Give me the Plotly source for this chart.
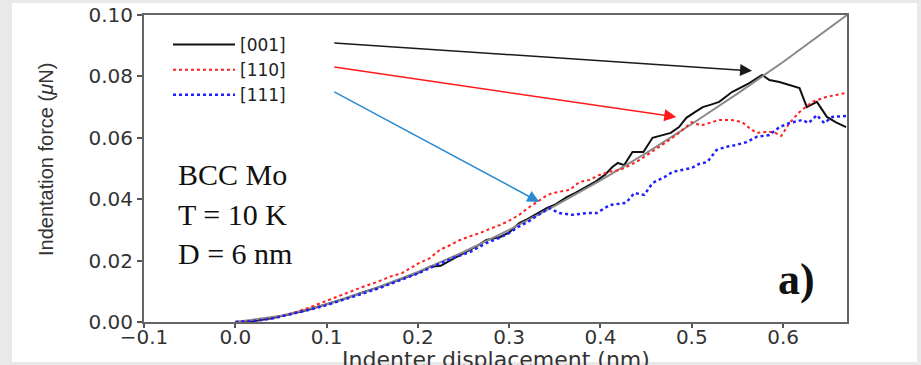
import plotly.graph_objects as go

# ---------------- data ----------------
x_001 = [0.0, 0.02, 0.04, 0.06, 0.08, 0.10, 0.12, 0.14, 0.16, 0.18, 0.20, 0.213, 0.225, 0.24,
         0.255, 0.265, 0.275, 0.29, 0.30, 0.311, 0.32, 0.33, 0.341, 0.35, 0.363, 0.372, 0.385,
         0.395, 0.405, 0.413, 0.419, 0.426, 0.435, 0.447, 0.457, 0.468, 0.477, 0.486, 0.494,
         0.503, 0.512, 0.521, 0.53, 0.544, 0.553, 0.563, 0.577, 0.585, 0.596, 0.607, 0.618,
         0.626, 0.637, 0.648, 0.658, 0.669]
y_001 = [0.0, 0.0003, 0.0012, 0.0025, 0.004, 0.0058, 0.0076, 0.0097, 0.0116, 0.0138, 0.0160,
         0.0180, 0.0183, 0.0208, 0.0232, 0.0248, 0.0267, 0.0277, 0.0292, 0.0322, 0.0335, 0.0352,
         0.0371, 0.0382, 0.0407, 0.0420, 0.0440, 0.0458, 0.0480, 0.0505, 0.0518, 0.0511, 0.0554,
         0.0554, 0.0600, 0.0609, 0.0616, 0.0635, 0.0665, 0.0683, 0.0700, 0.0708, 0.0717, 0.0749,
         0.0762, 0.0778, 0.0805, 0.0788, 0.0782, 0.0772, 0.0762, 0.0700, 0.0717, 0.0668, 0.0650,
         0.0635]

x_110 = [0.0, 0.02, 0.04, 0.06, 0.08, 0.10, 0.12, 0.14, 0.155, 0.17, 0.183, 0.20, 0.213, 0.224,
         0.235, 0.246, 0.258, 0.268, 0.28, 0.29, 0.30, 0.311, 0.32, 0.33, 0.34, 0.347, 0.357,
         0.366, 0.377, 0.388, 0.399, 0.41, 0.421, 0.432, 0.443, 0.454, 0.465, 0.474, 0.483,
         0.492, 0.50, 0.51, 0.52, 0.53, 0.544, 0.555, 0.563, 0.571, 0.58, 0.59, 0.598, 0.607,
         0.618, 0.632, 0.647, 0.669]
y_110 = [0.0, 0.0004, 0.0012, 0.0026, 0.0046, 0.0069, 0.0093, 0.0115, 0.0130, 0.0148, 0.0160,
         0.0190, 0.0208, 0.0235, 0.0250, 0.0267, 0.0280, 0.0290, 0.0305, 0.0316, 0.0330, 0.0349,
         0.0370, 0.0391, 0.0410, 0.0420, 0.0425, 0.0430, 0.0456, 0.0463, 0.0479, 0.0490, 0.0495,
         0.0510, 0.0528, 0.0550, 0.0570, 0.0590, 0.0609, 0.0630, 0.0651, 0.0640, 0.0650, 0.0658,
         0.0658, 0.0651, 0.0632, 0.0616, 0.0619, 0.0619, 0.0606, 0.0648, 0.0684, 0.0717, 0.0733,
         0.0746]

x_111 = [0.0, 0.02, 0.04, 0.06, 0.08, 0.10, 0.12, 0.14, 0.16, 0.18, 0.20, 0.22, 0.24, 0.257,
         0.275, 0.29, 0.30, 0.31, 0.32, 0.33, 0.34, 0.344, 0.355, 0.369, 0.385, 0.396, 0.41,
         0.428, 0.437, 0.448, 0.457, 0.47, 0.479, 0.49, 0.50, 0.508, 0.517, 0.527, 0.537, 0.549,
         0.56, 0.571, 0.585, 0.596, 0.607, 0.621, 0.628, 0.637, 0.645, 0.654, 0.669]
y_111 = [0.0, 0.0003, 0.0011, 0.0024, 0.0039, 0.0055, 0.0073, 0.0093, 0.0113, 0.0135, 0.0158,
         0.0185, 0.0210, 0.0228, 0.0257, 0.0275, 0.0290, 0.0310, 0.0325, 0.0345, 0.0365, 0.0371,
         0.0355, 0.0349, 0.0355, 0.0355, 0.0381, 0.0388, 0.0420, 0.0414, 0.0453, 0.0472, 0.0489,
         0.0495, 0.0502, 0.0515, 0.0521, 0.0560, 0.0570, 0.0577, 0.0586, 0.0603, 0.0609, 0.0635,
         0.0648, 0.0658, 0.0648, 0.0674, 0.0648, 0.0668, 0.0671]

# grey fit curve
x_fit = [0.0, 0.05, 0.10, 0.15, 0.20, 0.25, 0.30, 0.35, 0.40, 0.45, 0.50, 0.55, 0.60, 0.67]
y_fit = [0.0, 0.0020, 0.0058, 0.0106, 0.0163, 0.0228, 0.0300, 0.0378, 0.0461, 0.0550, 0.0645,
         0.0744, 0.0847, 0.1000]

series_names = ["[001]", "[110]", "[111]"]
x_ticks = [-0.1, 0.0, 0.1, 0.2, 0.3, 0.4, 0.5, 0.6]
y_ticks = [0.00, 0.02, 0.04, 0.06, 0.08, 0.10]
info_lines = ["BCC Mo", "T = 10 K", "D = 6 nm"]
x_title = "Indenter displacement (nm)"
y_title = "Indentation force (<i>μ</i>N)"

# ---------------- figure ----------------
W, H = 921, 365
L, R, T, B = 144, 74, 15, 43
pw, ph = W - L - R, H - T - B

def px(xp):
    return (xp - L) / pw

def py(yp):
    return (H - B - yp) / ph

fig = go.Figure()
fig.add_trace(go.Scatter(x=x_001, y=y_001, mode="lines", name=series_names[0],
                         line=dict(color="#111111", width=2)))
fig.add_trace(go.Scatter(x=x_fit, y=y_fit, mode="lines", showlegend=False,
                         line=dict(color="#8a8a8a", width=2)))
fig.add_trace(go.Scatter(x=x_110, y=y_110, mode="lines", name=series_names[1],
                         line=dict(color="#ff2020", width=2, dash="dot")))
fig.add_trace(go.Scatter(x=x_111, y=y_111, mode="lines", name=series_names[2],
                         line=dict(color="#2020ff", width=2.5, dash="dot")))

tick_font = dict(family="DejaVu Sans", size=20, color="#333333")

fig.update_layout(
    width=W, height=H,
    margin=dict(l=L, r=R, t=T, b=B, autoexpand=False),
    paper_bgcolor="#e9e9e9",
    plot_bgcolor="white",
    showlegend=True,
    legend=dict(x=px(168), y=py(27), xanchor="left", yanchor="top",
                bgcolor="rgba(0,0,0,0)", borderwidth=0, itemwidth=62,
                tracegroupgap=0,
                font=dict(family="DejaVu Sans", size=17, color="#222222")),
    xaxis=dict(range=[-0.1, 0.67], tickvals=x_ticks, tickformat=".1f", automargin=False,
               ticks="outside", ticklen=4, tickcolor="#555555", tickwidth=1.5,
               ticklabelstandoff=-8,
               showline=True, mirror=True, linecolor="#666666", linewidth=2,
               showgrid=False, zeroline=False, tickfont=tick_font),
    yaxis=dict(range=[0, 0.10], tickvals=y_ticks, tickformat=".2f", automargin=False,
               ticks="outside", ticklen=5, tickcolor="#555555", tickwidth=1.5,
               showline=True, mirror=True, linecolor="#666666", linewidth=2,
               showgrid=False, zeroline=False, tickfont=tick_font),
    shapes=[dict(type="rect", xref="paper", yref="paper", layer="below",
                 x0=px(12), x1=px(917), y0=py(362), y1=py(3),
                 fillcolor="white", line=dict(width=0))],
)

# axis titles
fig.add_annotation(xref="paper", yref="paper", x=0.5, y=py(346), xanchor="center",
                   yanchor="top", text=x_title, showarrow=False, borderpad=0,
                   font=dict(family="DejaVu Sans", size=22, color="#333333"))
fig.add_annotation(xref="paper", yref="paper", x=px(46), y=py(160), xanchor="center",
                   yanchor="middle", text=y_title, showarrow=False, textangle=-90,
                   font=dict(family="Liberation Sans", size=20, color="#333333"))

# info text
info_y = [174, 214, 253]
for t, yy in zip(info_lines, info_y):
    fig.add_annotation(xref="paper", yref="paper", x=px(176), y=py(yy),
                       xanchor="left", yanchor="middle", text=t, showarrow=False,
                       font=dict(family="Liberation Serif", size=30, color="#111111"))

fig.add_annotation(xref="paper", yref="paper", x=px(817), y=py(279),
                   xanchor="right", yanchor="middle", text="<b>a)</b>", showarrow=False,
                   font=dict(family="Liberation Serif", size=44, color="#111111"))

# arrows from legend labels to curves
arrow_specs = [
    (0.566, 0.0818, 0.1068, 0.0909, "#1a1a1a"),
    (0.483, 0.0668, 0.1068, 0.0831, "#ff1a1a"),
    (0.333, 0.0391, 0.1068, 0.0752, "#2a8ad0"),
]
for hx, hy, tx, ty, c in arrow_specs:
    fig.add_annotation(x=hx, y=hy, ax=tx, ay=ty, xref="x", yref="y", axref="x", ayref="y",
                       text="", showarrow=True, arrowhead=2, arrowsize=1.6, arrowwidth=1.5,
                       arrowcolor=c, standoff=0, startstandoff=0)

fig.write_html("out.html")
